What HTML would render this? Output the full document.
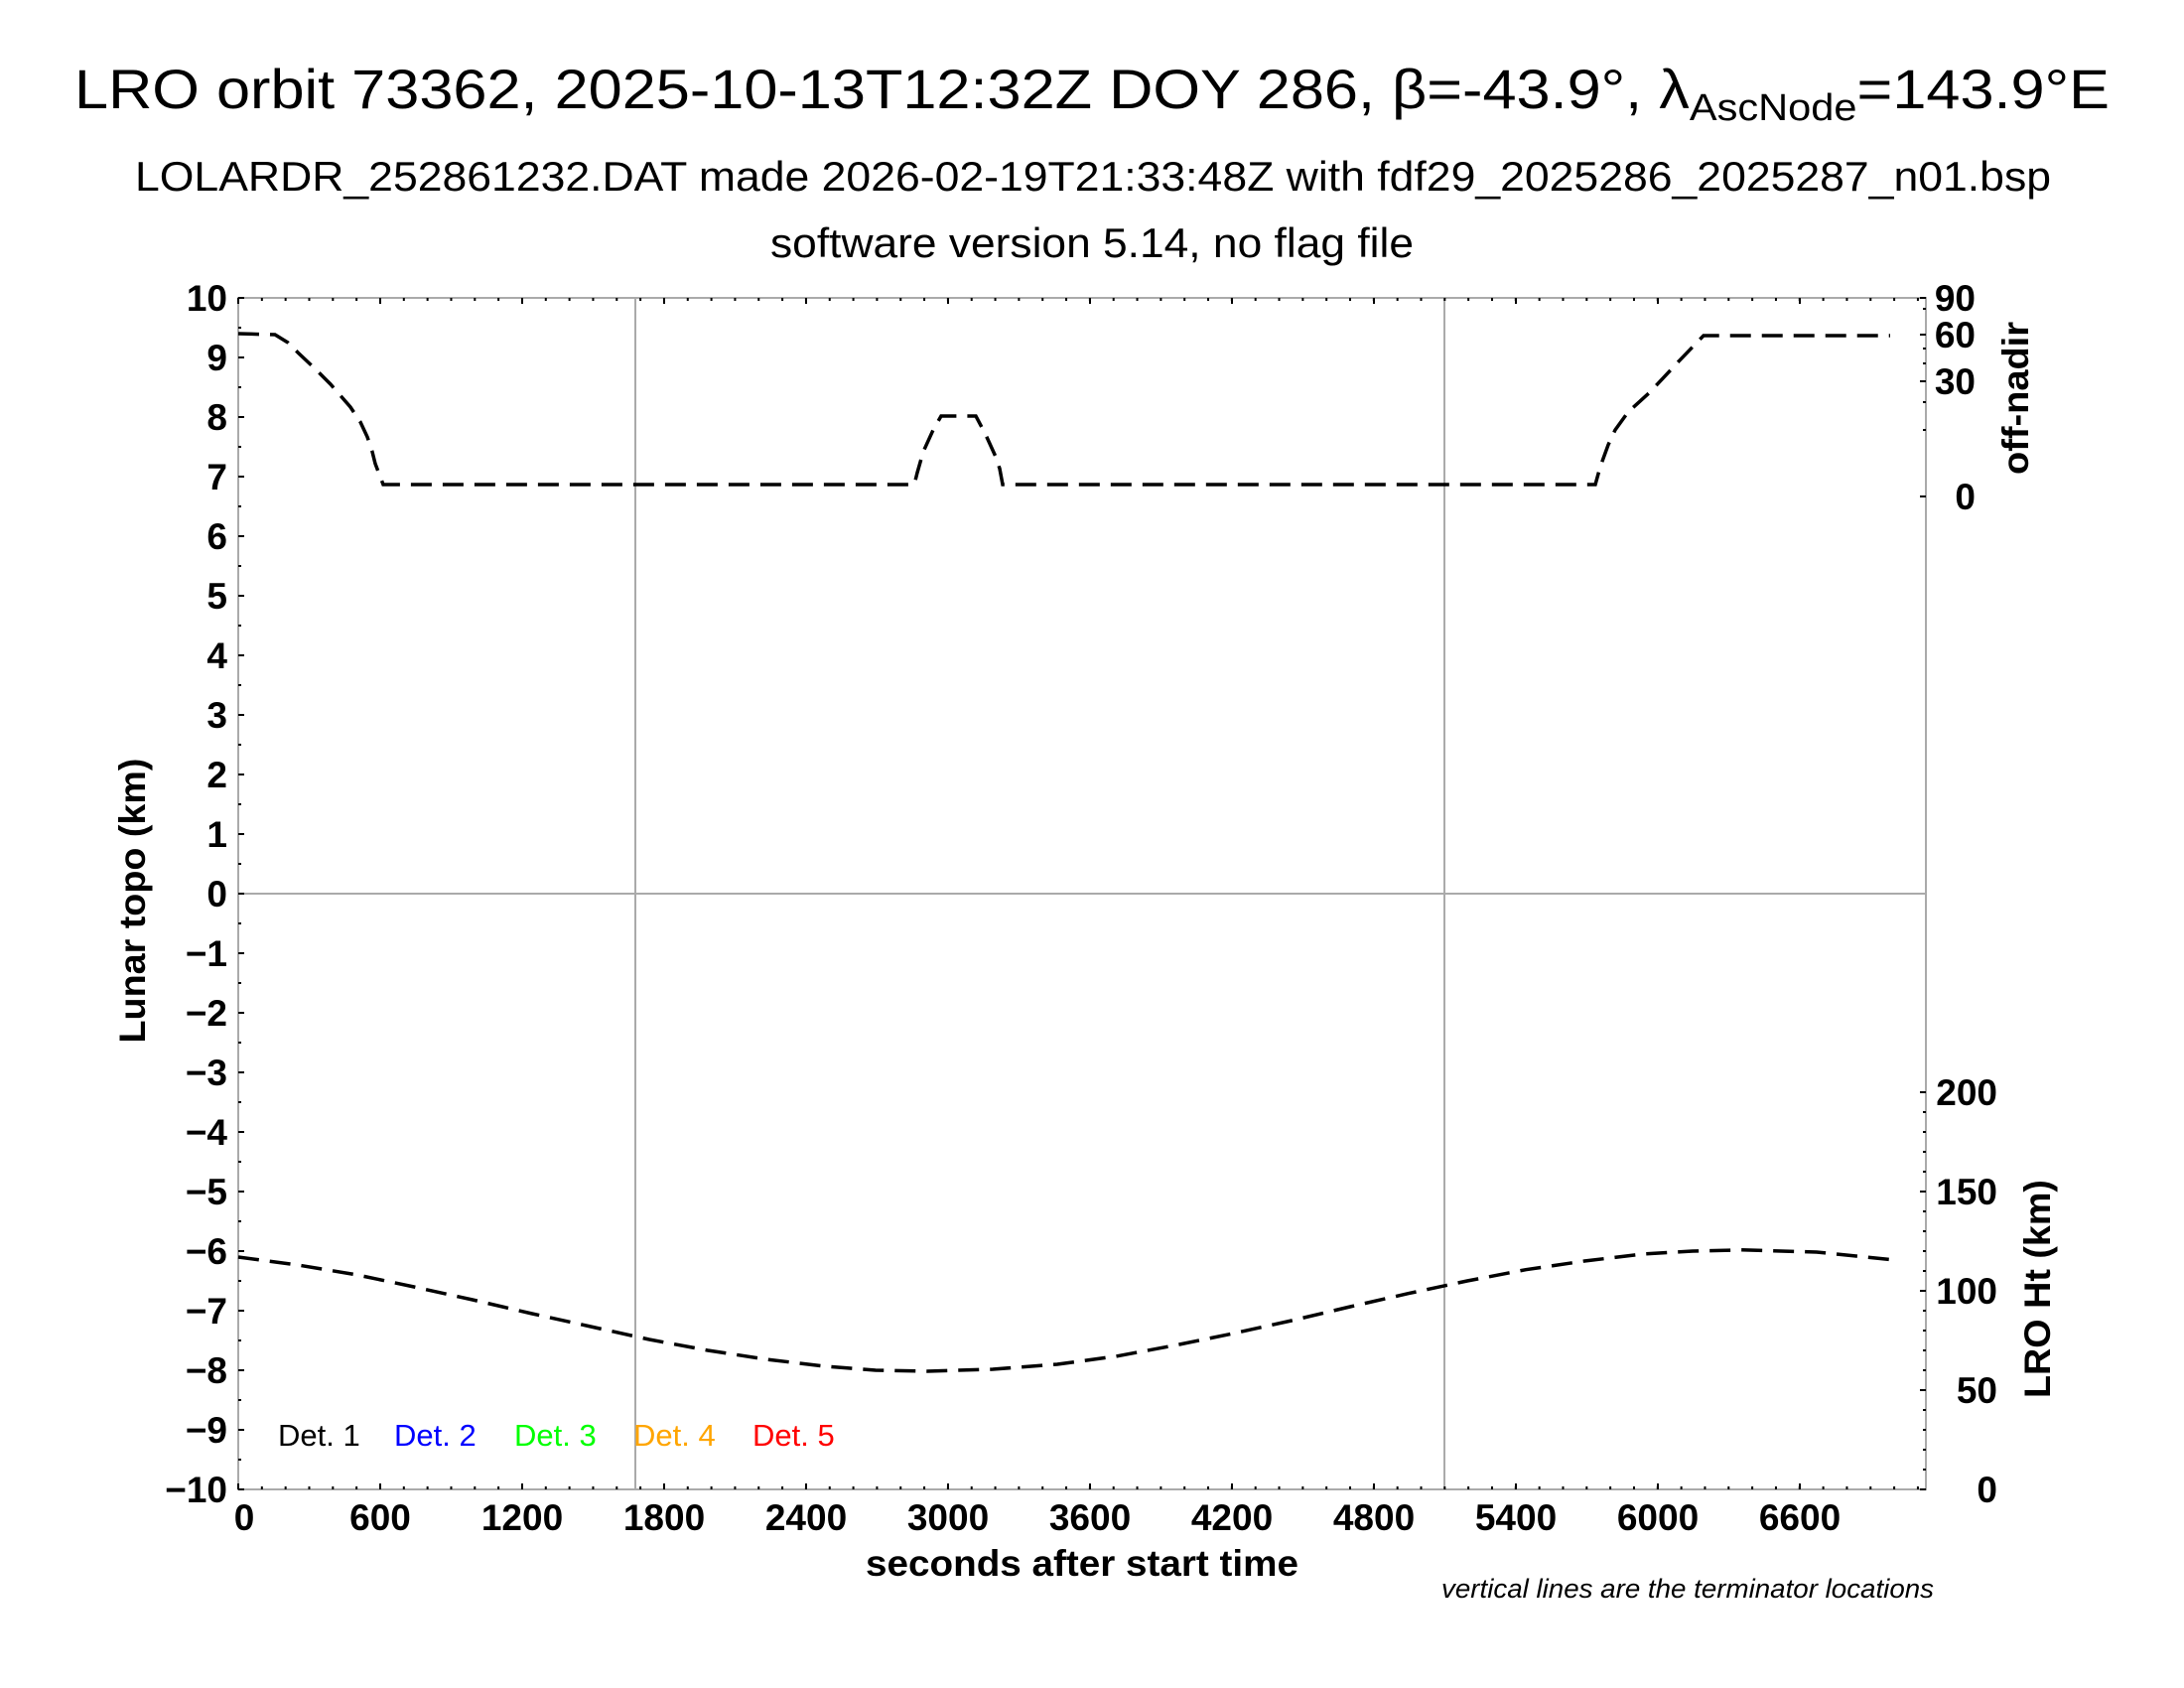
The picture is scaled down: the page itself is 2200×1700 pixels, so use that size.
<!DOCTYPE html>
<html><head><meta charset="utf-8"><style>html,body{margin:0;padding:0;background:#fff}svg{display:block}</style></head>
<body>
<svg width="2200" height="1700" viewBox="0 0 2200 1700" xmlns="http://www.w3.org/2000/svg" font-family="Liberation Sans, sans-serif">
<rect width="2200" height="1700" fill="#fff"/>
<text x="1100" y="109" font-size="56" text-anchor="middle" textLength="2050" lengthAdjust="spacingAndGlyphs">LRO orbit 73362, 2025-10-13T12:32Z DOY 286, β=-43.9°, λ<tspan font-size="38" dy="12">AscNode</tspan><tspan dy="-12">=143.9°E</tspan></text>
<text x="1101" y="192" font-size="42" text-anchor="middle" textLength="1930" lengthAdjust="spacingAndGlyphs">LOLARDR_252861232.DAT made 2026-02-19T21:33:48Z with fdf29_2025286_2025287_n01.bsp</text>
<text x="1100" y="259" font-size="42" text-anchor="middle" textLength="648" lengthAdjust="spacingAndGlyphs">software version 5.14, no flag file</text>
<g stroke="#aaa" stroke-width="2" fill="none">
<rect x="240" y="300" width="1700" height="1200"/>
<line x1="240" y1="900" x2="1940" y2="900"/>
<line x1="640" y1="300" x2="640" y2="1500"/>
<line x1="1455" y1="300" x2="1455" y2="1500"/>
</g>
<g stroke="#000" stroke-width="2">
<path d="M240 300h6M240 360h6M240 420h6M240 480h6M240 540h6M240 600h6M240 660h6M240 720h6M240 780h6M240 840h6M240 900h6M240 960h6M240 1020h6M240 1080h6M240 1140h6M240 1200h6M240 1260h6M240 1320h6M240 1380h6M240 1440h6M240 1500h6"/>
<path d="M240 330h3M240 390h3M240 450h3M240 510h3M240 570h3M240 630h3M240 690h3M240 750h3M240 810h3M240 870h3M240 930h3M240 990h3M240 1050h3M240 1110h3M240 1170h3M240 1230h3M240 1290h3M240 1350h3M240 1410h3M240 1470h3"/>
<path d="M1940 300h-6M1940 337h-6M1940 384h-6M1940 500h-6M1940 311h-3M1940 351h-3M1940 366h-3M1940 405h-3M1940 433h-3"/>
<path d="M1940 1100h-6M1940 1200h-6M1940 1300h-6M1940 1400h-6M1940 1500h-6M1940 1120h-3M1940 1140h-3M1940 1160h-3M1940 1180h-3M1940 1220h-3M1940 1240h-3M1940 1260h-3M1940 1280h-3M1940 1320h-3M1940 1340h-3M1940 1360h-3M1940 1380h-3M1940 1420h-3M1940 1440h-3M1940 1460h-3M1940 1480h-3"/>
<path d="M240 1500v-6M383 1500v-6M526 1500v-6M669 1500v-6M812 1500v-6M955 1500v-6M1098 1500v-6M1241 1500v-6M1384 1500v-6M1527 1500v-6M1670 1500v-6M1813 1500v-6"/>
<path d="M240 300v6M383 300v6M526 300v6M669 300v6M812 300v6M955 300v6M1098 300v6M1241 300v6M1384 300v6M1527 300v6M1670 300v6M1813 300v6"/>
<path stroke-dasharray="2 21.83" stroke-dashoffset="-22.83" d="M240 1498.5H1940M240 301.5H1940" stroke-width="3"/>
</g>
<g font-size="37" font-weight="bold" text-anchor="end">
<text x="229" y="313">10</text><text x="229" y="373">9</text><text x="229" y="433">8</text><text x="229" y="493">7</text><text x="229" y="553">6</text><text x="229" y="613">5</text><text x="229" y="673">4</text><text x="229" y="733">3</text><text x="229" y="793">2</text><text x="229" y="853">1</text><text x="229" y="913">0</text><text x="229" y="973">−1</text><text x="229" y="1033">−2</text><text x="229" y="1093">−3</text><text x="229" y="1153">−4</text><text x="229" y="1213">−5</text><text x="229" y="1273">−6</text><text x="229" y="1333">−7</text><text x="229" y="1393">−8</text><text x="229" y="1453">−9</text><text x="229" y="1513">−10</text>
<text x="1990" y="313">90</text><text x="1990" y="350">60</text><text x="1990" y="397">30</text><text x="1990" y="513">0</text>
<text x="2012" y="1113">200</text><text x="2012" y="1213">150</text><text x="2012" y="1313">100</text><text x="2012" y="1413">50</text><text x="2012" y="1513">0</text>
</g>
<g font-size="37" font-weight="bold" text-anchor="middle">
<text x="246" y="1541">0</text><text x="383" y="1541">600</text><text x="526" y="1541">1200</text><text x="669" y="1541">1800</text><text x="812" y="1541">2400</text><text x="955" y="1541">3000</text><text x="1098" y="1541">3600</text><text x="1241" y="1541">4200</text><text x="1384" y="1541">4800</text><text x="1527" y="1541">5400</text><text x="1670" y="1541">6000</text><text x="1813" y="1541">6600</text>
<text x="1090" y="1587" font-size="37" textLength="436" lengthAdjust="spacingAndGlyphs">seconds after start time</text>
<text transform="translate(146,907) rotate(-90)" font-size="37" textLength="287" lengthAdjust="spacingAndGlyphs">Lunar topo (km)</text>
<text transform="translate(2043,401) rotate(-90)" font-size="37" textLength="154" lengthAdjust="spacingAndGlyphs">off-nadir</text>
<text transform="translate(2065,1298) rotate(-90)" font-size="37" textLength="220" lengthAdjust="spacingAndGlyphs">LRO Ht (km)</text>
</g>
<text x="1948" y="1609" font-size="27" font-style="italic" text-anchor="end" textLength="496" lengthAdjust="spacingAndGlyphs">vertical lines are the terminator locations</text>
<g font-size="31">
<text x="280" y="1456" fill="#000">Det. 1</text>
<text x="397" y="1456" fill="#0000ff">Det. 2</text>
<text x="518" y="1456" fill="#00ff00">Det. 3</text>
<text x="638" y="1456" fill="#ffa500">Det. 4</text>
<text x="758" y="1456" fill="#ff0000">Det. 5</text>
</g>
<g fill="none" stroke="#000" stroke-width="3.5" stroke-dasharray="21 11">
<path d="M240 336L277 337L290 345L300 355L318 372L333 387L353 410L363 425L370 440L375 455L378 467L386 488L921 488L924 476L930 455L940 433L948 419L983 419L993 438L1003 460L1007 472L1010 488L1607 488L1612 470L1620 448L1627 433L1640 415L1662 395L1690 365L1716 338L1904 338"/>
<path d="M240 1266L300 1274L358 1283.6L417 1296L476 1309L536 1323L595 1336L654 1349L713 1360L772 1369L831 1376L882 1380L934 1381L1000 1379L1065 1374L1124 1366L1183 1355L1242 1343L1301 1330L1360 1316L1419 1302.6L1478 1290L1537 1278.7L1596 1270L1655 1263L1705 1260L1754 1258.8L1830 1261L1904 1268.5"/>
</g>
</svg>
</body></html>
